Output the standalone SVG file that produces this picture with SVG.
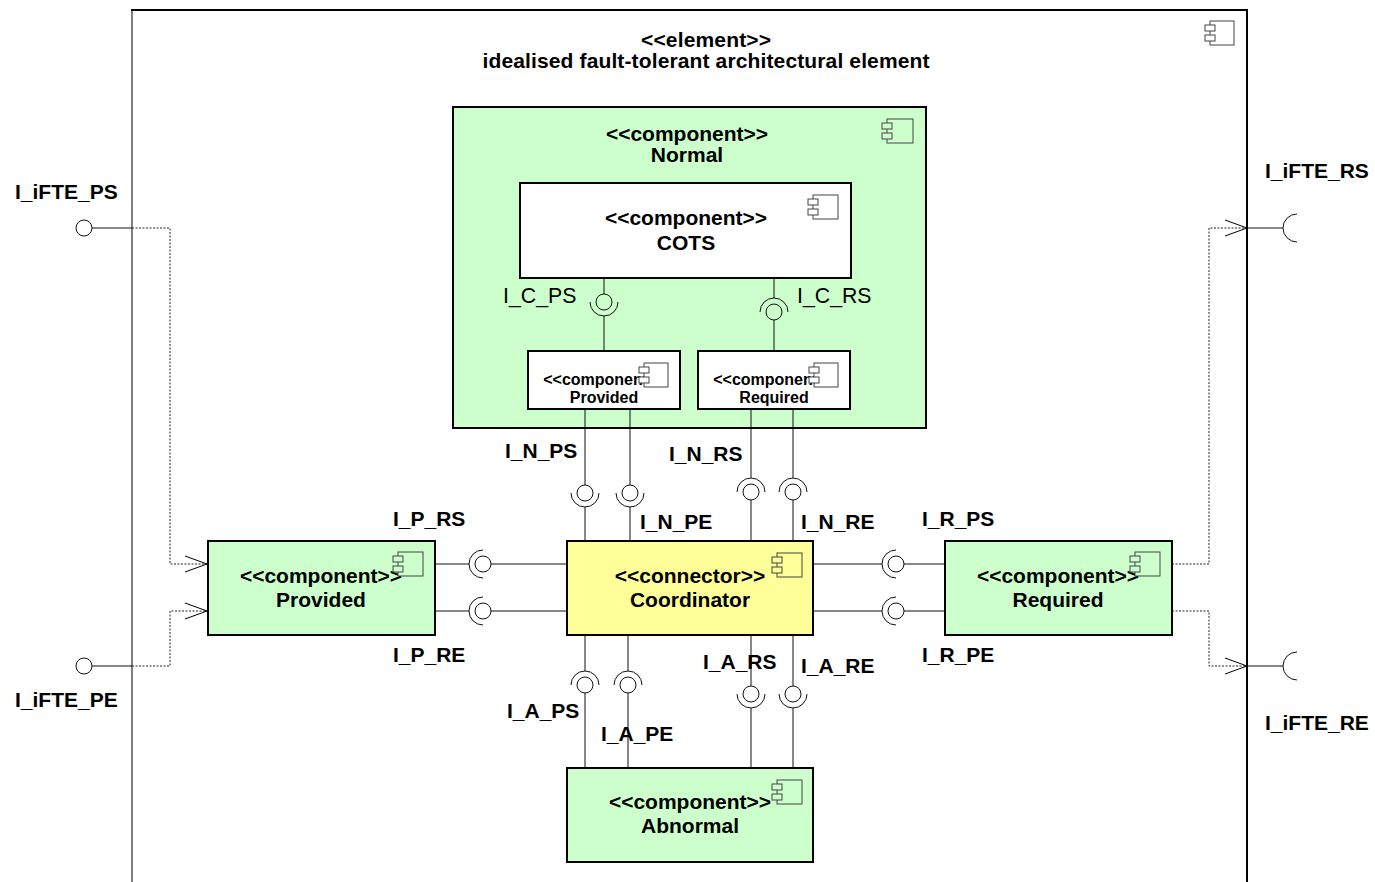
<svg xmlns="http://www.w3.org/2000/svg" width="1375" height="882" viewBox="0 0 1375 882">
  <style>
    .box { stroke: #000; stroke-width: 2; }
    .green { fill: #ccffcc; }
    .yellow { fill: #ffff99; }
    .white { fill: #ffffff; }
    .t { font-family: "Liberation Sans", Arial, sans-serif; font-size: 21px; font-weight: bold; fill: #000; }
    .tc { text-anchor: middle; }
    .tr { font-family: "Liberation Sans", Arial, sans-serif; font-size: 21.3px; fill: #000; }
    .ts { font-family: "Liberation Sans", Arial, sans-serif; font-size: 16px; font-weight: bold; fill: #000; text-anchor: middle; }
    .ln { stroke: #111; stroke-width: 1; fill: none; }
    .dot { stroke: #222; stroke-width: 1; fill: none; stroke-dasharray: 2 1.5; }
    .ball { stroke: #111; stroke-width: 1; fill: none; }
    .icon { stroke: #444; stroke-width: 1; }
  </style>
  <defs>
    <marker id="openArrow" markerUnits="userSpaceOnUse" markerWidth="24" markerHeight="20" refX="22" refY="9" orient="auto">
      <path d="M0,1 L22,9 L0,17" fill="none" stroke="#000" stroke-width="1"/>
    </marker>
  </defs>

  <rect width="1375" height="882" fill="#ffffff"/>

  <!-- outer element frame (open at the bottom) -->
  <g id="element">
    <line x1="132" y1="10" x2="132" y2="882" stroke="#555" stroke-width="1.5"/>
    <line x1="131" y1="10" x2="1248" y2="10" stroke="#000" stroke-width="2"/>
    <line x1="1247" y1="10" x2="1247" y2="882" stroke="#000" stroke-width="2"/>
    <rect class="icon" x="1210" y="21" width="24" height="24" fill="#ffffff"/>
    <rect class="icon" x="1205" y="25" width="10" height="6" fill="#ffffff"/>
    <rect class="icon" x="1205" y="35" width="10" height="6" fill="#ffffff"/>
    <text class="t tc" x="706" y="47" textLength="130">&lt;&lt;element&gt;&gt;</text>
    <text class="t tc" x="706" y="68" textLength="447">idealised fault-tolerant architectural element</text>
  </g>

  <g id="normal">
    <rect class="box green" x="453" y="107" width="473" height="321"/>
    <rect class="icon green" x="887" y="119" width="26" height="24"/>
    <rect class="icon green" x="882" y="123" width="10" height="6"/>
    <rect class="icon green" x="882" y="133" width="10" height="6"/>
    <text class="t tc" x="687" y="141">&lt;&lt;component&gt;&gt;</text>
    <text class="t tc" x="687" y="162">Normal</text>
  </g>

  <g id="cots">
    <rect class="box white" x="520" y="183" width="331" height="95"/>
    <rect class="icon white" x="813" y="195" width="25" height="24"/>
    <rect class="icon white" x="808" y="199" width="10" height="6"/>
    <rect class="icon white" x="808" y="209" width="10" height="6"/>
    <text class="t tc" x="686" y="225">&lt;&lt;component&gt;&gt;</text>
    <text class="t tc" x="686" y="250">COTS</text>
  </g>

  <g id="normal-provided">
    <rect class="box white" x="528" y="351" width="152" height="58"/>
    <text class="ts" x="605" y="385">&lt;&lt;component&gt;&gt;</text>
    <rect class="icon white" x="644" y="363" width="24" height="24"/>
    <rect class="icon white" x="639" y="367" width="10" height="6"/>
    <rect class="icon white" x="639" y="377" width="10" height="6"/>
    <text class="ts" x="604" y="403">Provided</text>
  </g>

  <g id="normal-required">
    <rect class="box white" x="698" y="351" width="152" height="58"/>
    <text class="ts" x="775" y="385">&lt;&lt;component&gt;&gt;</text>
    <rect class="icon white" x="814" y="363" width="24" height="24"/>
    <rect class="icon white" x="809" y="367" width="10" height="6"/>
    <rect class="icon white" x="809" y="377" width="10" height="6"/>
    <text class="ts" x="774" y="403">Required</text>
  </g>

  <g id="coordinator">
    <rect class="box yellow" x="567" y="541" width="246" height="94"/>
    <rect class="icon yellow" x="777" y="553" width="25" height="24"/>
    <rect class="icon yellow" x="772" y="557" width="10" height="6"/>
    <rect class="icon yellow" x="772" y="567" width="10" height="6"/>
    <text class="t tc" x="690" y="583">&lt;&lt;connector&gt;&gt;</text>
    <text class="t tc" x="690" y="607">Coordinator</text>
  </g>

  <g id="provided">
    <rect class="box green" x="208" y="541" width="227" height="94"/>
    <text class="t tc" x="321" y="583">&lt;&lt;component&gt;&gt;</text>
    <rect class="icon green" x="398" y="552" width="25" height="24"/>
    <rect class="icon green" x="393" y="556" width="10" height="6"/>
    <rect class="icon green" x="393" y="566" width="10" height="6"/>
    <text class="t tc" x="321" y="607">Provided</text>
  </g>

  <g id="required">
    <rect class="box green" x="945" y="541" width="227" height="94"/>
    <text class="t tc" x="1058" y="583">&lt;&lt;component&gt;&gt;</text>
    <rect class="icon green" x="1135" y="552" width="25" height="24"/>
    <rect class="icon green" x="1130" y="556" width="10" height="6"/>
    <rect class="icon green" x="1130" y="566" width="10" height="6"/>
    <text class="t tc" x="1058" y="607">Required</text>
  </g>

  <g id="abnormal">
    <rect class="box green" x="567" y="768" width="246" height="94"/>
    <text class="t tc" x="690" y="809">&lt;&lt;component&gt;&gt;</text>
    <rect class="icon green" x="777" y="780" width="25" height="24"/>
    <rect class="icon green" x="772" y="784" width="10" height="6"/>
    <rect class="icon green" x="772" y="794" width="10" height="6"/>
    <text class="t tc" x="690" y="833">Abnormal</text>
  </g>

  <!-- interface connectors: ball = provided, socket = required -->
  <g id="connectors">
    <!-- COTS to Normal's inner parts -->
    <path class="ln" d="M604,278 V294 M604,316 V351"/>
    <circle class="ball" cx="604" cy="302" r="8"/>
    <path class="ln" d="M590,302 A14,14 0 0 0 618,302"/>
    <path class="ln" d="M774,278 V298 M774,320 V351"/>
    <circle class="ball" cx="774" cy="312" r="8"/>
    <path class="ln" d="M760,312 A14,14 0 0 1 788,312"/>

    <!-- Normal to Coordinator -->
    <path class="ln" d="M585,409 V485 M585,507 V541"/>
    <circle class="ball" cx="585" cy="493" r="8"/>
    <path class="ln" d="M571,493 A14,14 0 0 0 599,493"/>
    <path class="ln" d="M630,409 V485 M630,507 V541"/>
    <circle class="ball" cx="630" cy="493" r="8"/>
    <path class="ln" d="M616,493 A14,14 0 0 0 644,493"/>
    <path class="ln" d="M751,409 V478 M751,500 V541"/>
    <circle class="ball" cx="751" cy="492" r="8"/>
    <path class="ln" d="M737,492 A14,14 0 0 1 765,492"/>
    <path class="ln" d="M793,409 V478 M793,500 V541"/>
    <circle class="ball" cx="793" cy="492" r="8"/>
    <path class="ln" d="M779,492 A14,14 0 0 1 807,492"/>

    <!-- Provided to Coordinator -->
    <path class="ln" d="M435,564 H469 M491,564 H567"/>
    <circle class="ball" cx="483" cy="564" r="8"/>
    <path class="ln" d="M483,550 A14,14 0 0 0 483,578"/>
    <path class="ln" d="M435,611 H469 M491,611 H567"/>
    <circle class="ball" cx="483" cy="611" r="8"/>
    <path class="ln" d="M483,597 A14,14 0 0 0 483,625"/>

    <!-- Coordinator to Required -->
    <path class="ln" d="M813,564 H882 M904,564 H945"/>
    <circle class="ball" cx="896" cy="564" r="8"/>
    <path class="ln" d="M896,550 A14,14 0 0 0 896,578"/>
    <path class="ln" d="M813,611 H882 M904,611 H945"/>
    <circle class="ball" cx="896" cy="611" r="8"/>
    <path class="ln" d="M896,597 A14,14 0 0 0 896,625"/>

    <!-- Coordinator to Abnormal -->
    <path class="ln" d="M585,635 V671 M585,693 V768"/>
    <circle class="ball" cx="585" cy="685" r="8"/>
    <path class="ln" d="M571,685 A14,14 0 0 1 599,685"/>
    <path class="ln" d="M628,635 V671 M628,693 V768"/>
    <circle class="ball" cx="628" cy="685" r="8"/>
    <path class="ln" d="M614,685 A14,14 0 0 1 642,685"/>
    <path class="ln" d="M751,635 V686 M751,708 V768"/>
    <circle class="ball" cx="751" cy="694" r="8"/>
    <path class="ln" d="M737,694 A14,14 0 0 0 765,694"/>
    <path class="ln" d="M793,635 V686 M793,708 V768"/>
    <circle class="ball" cx="793" cy="694" r="8"/>
    <path class="ln" d="M779,694 A14,14 0 0 0 807,694"/>

    <!-- delegation from the element boundary -->
    <circle class="ball" cx="84" cy="228" r="8"/>
    <path class="ln" d="M92,228 H132"/>
    <path class="dot" d="M132,228 H170 V564 H207" marker-end="url(#openArrow)"/>
    <circle class="ball" cx="84" cy="666" r="8"/>
    <path class="ln" d="M92,666 H132"/>
    <path class="dot" d="M132,666 H170 V611 H207" marker-end="url(#openArrow)"/>

    <path class="dot" d="M1172,564 H1209 V228 H1247" marker-end="url(#openArrow)"/>
    <path class="ln" d="M1247,228 H1283"/>
    <path class="ln" d="M1297,214 A14,14 0 0 0 1297,242"/>
    <path class="dot" d="M1172,611 H1209 V666 H1247" marker-end="url(#openArrow)"/>
    <path class="ln" d="M1247,666 H1283"/>
    <path class="ln" d="M1297,652 A14,14 0 0 0 1297,680"/>
  </g>

  <g id="labels">
    <text class="t" x="15" y="199">I_iFTE_PS</text>
    <text class="t" x="15" y="707">I_iFTE_PE</text>
    <text class="t" x="1265" y="178">I_iFTE_RS</text>
    <text class="t" x="1265" y="730">I_iFTE_RE</text>
    <text class="tr" x="503" y="303">I_C_PS</text>
    <text class="tr" x="797" y="303">I_C_RS</text>
    <text class="t" x="505" y="458">I_N_PS</text>
    <text class="t" x="669" y="461">I_N_RS</text>
    <text class="t" x="640" y="529">I_N_PE</text>
    <text class="t" x="801" y="529">I_N_RE</text>
    <text class="t" x="393" y="526">I_P_RS</text>
    <text class="t" x="393" y="662">I_P_RE</text>
    <text class="t" x="922" y="526">I_R_PS</text>
    <text class="t" x="922" y="662">I_R_PE</text>
    <text class="t" x="703" y="669">I_A_RS</text>
    <text class="t" x="801" y="673">I_A_RE</text>
    <text class="t" x="507" y="718">I_A_PS</text>
    <text class="t" x="601" y="741">I_A_PE</text>
  </g>
</svg>
